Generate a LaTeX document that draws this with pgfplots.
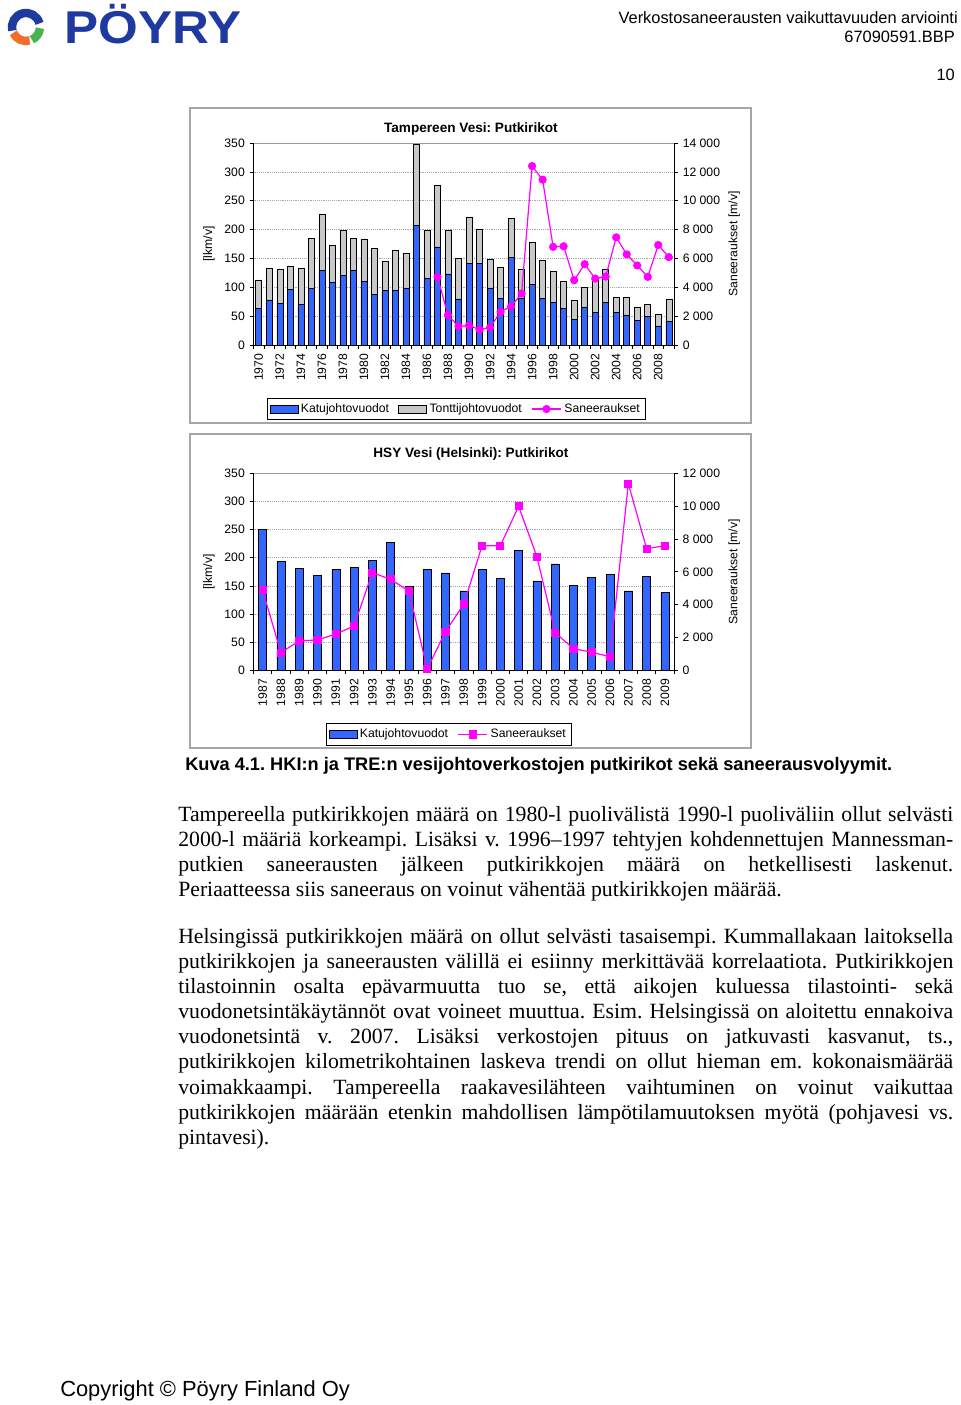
\documentclass[border=0pt]{standalone}
\usepackage{fontspec}
\setmainfont{Liberation Sans}
\newfontfamily\serifbody{Liberation Serif}
\usepackage{pgfplots}
\usepackage{pgfplotstable}
\pgfplotsset{compat=1.18}

\definecolor{katublue}{RGB}{51,102,255}
\definecolor{tonttigray}{RGB}{200,200,200}
\definecolor{sanmag}{RGB}{255,0,255}
\definecolor{poyryblue}{RGB}{30,58,160}
\definecolor{poyryorange}{RGB}{240,110,40}
\definecolor{poyrygreen}{RGB}{70,180,80}

\newcommand\chartfont{\fontsize{9.15pt}{11pt}\selectfont}
\newcommand\titlefont{\fontsize{10.2pt}{12pt}\selectfont\bfseries}
\newcommand\bodyfont{\serifbody\fontsize{16.3pt}{18.75pt}\selectfont}

\pgfplotstableread{
year katu tontti
1970 63 50
1971 78 55
1972 72 59
1973 96 41
1974 71 62
1975 98 87
1976 129 97
1977 108 64
1978 121 78
1979 129 56
1980 110 74
1981 88 80
1982 94 51
1983 94 70
1984 98 61
1985 207 141
1986 116 83
1987 170 107
1988 123 76
1989 80 70
1990 142 80
1991 141 60
1992 99 50
1993 81 54
1994 152 67
1995 81 50
1996 105 73
1997 81 66
1998 74 53
1999 63 47
2000 45 32
2001 66 34
2002 56 60
2003 74 58
2004 56 26
2005 52 30
2006 43 23
2007 49 21
2008 33 20
2009 41 39
}\tretable

\pgfplotstableread{
year san
1987 4720
1988 2070
1989 1280
1990 1350
1991 1070
1992 1210
1993 2300
1994 2670
1995 3560
1996 12400
1997 11460
1998 6800
1999 6840
2000 4490
2001 5600
2002 4600
2003 4740
2004 7460
2005 6280
2006 5510
2007 4720
2008 6930
2009 6090
}\tresan

\pgfplotstableread{
year katu san
1987 250 4870
1988 193 1080
1989 181 1790
1990 169 1850
1991 179 2210
1992 183 2700
1993 195 5950
1994 227 5540
1995 149 4830
1996 179 80
1997 173 2360
1998 141 4020
1999 179 7590
2000 163 7590
2001 213 9990
2002 159 6920
2003 189 2290
2004 151 1320
2005 165 1100
2006 171 830
2007 141 11370
2008 167 7410
2009 139 7590
}\hkitable

\pgfplotsset{
  excelaxis/.style={
    scale only axis, width=315.4pt,
    /pgf/number format/assume math mode=true,
    tick label style={font=\chartfont, black},
    label style={font=\chartfont},
    tick align=outside,
    major tick length=3pt, minor tick length=3pt,
    axis line style={black, line width=0.6pt},
    every tick/.style={black, line width=0.5pt},
    scaled y ticks=false,
    clip=false,
  },
  barlegend/.style={legend image code/.code={\draw[##1] (0pt,-3pt) rectangle (21pt,3pt);}},
  linelegend/.style={legend image code/.code={\draw[##1, mark repeat=2, mark phase=2] plot coordinates {(0pt,0pt) (11pt,0pt) (22pt,0pt)};}},
  excellegend/.style={legend style={draw=black, line width=0.5pt, font=\chartfont, inner sep=2pt,
      /tikz/every even column/.append style={column sep=5pt}}, legend cell align=left},
}

\begin{document}
\frenchspacing
\begin{tikzpicture}[x=0.75pt,y=0.75pt]
\useasboundingbox (0,0) rectangle (960,1405);
\fill[white] (0,0) rectangle (960,1405);

% ---- header ----
\draw[poyryblue, line width=6.3pt] (26,1378) ++(15:14) arc[start angle=15, end angle=195, radius=14];
\draw[poyryorange, line width=6.3pt] (26,1378) ++(205:14) arc[start angle=205, end angle=285, radius=14];
\draw[poyrygreen, line width=6.3pt] (26,1378) ++(295:14) arc[start angle=295, end angle=355, radius=14];
\node[anchor=base west, inner sep=0pt, text=poyryblue, font=\fontsize{34.5pt}{36pt}\selectfont\bfseries] at (64,1361) {\scalebox{1.11}[1]{PÖYRY}};
\node[anchor=base east, inner sep=0pt, font=\fontsize{12.3pt}{14pt}\selectfont] at (958,1381) {Verkostosaneerausten vaikuttavuuden arviointi};
\node[anchor=base east, inner sep=0pt, font=\fontsize{12.3pt}{14pt}\selectfont] at (955,1362) {67090591.BBP};
\node[anchor=base east, inner sep=0pt, font=\fontsize{12.3pt}{14pt}\selectfont] at (955,1324) {10};

% ---- chart frames ----
\draw[gray!70, line width=0.9pt] (190,1297) rectangle (751,982);
\draw[gray!70, line width=0.9pt] (190,971) rectangle (751,657);

% ---- Tampere primary ----
\begin{axis}[excelaxis, at={(190.125pt,795pt)}, anchor=south west, height=151.5pt,
  ybar stacked, bar width=4.5pt,
  xmin=1969.5, xmax=2009.5, ymin=0, ymax=350,
  axis x line*=bottom, axis y line*=left,
  xtick={1970,1972,...,2008},
  every major x tick/.style={draw=none},
  minor xtick={1969.5,1970.5,...,2009.5},
  x tick label style={rotate=90, anchor=east, /pgf/number format/1000 sep={}},
  ytick={0,50,...,350},
  ymajorgrids, grid style={densely dotted, gray!70, line width=0.5pt},
  ylabel={[lkm/v]}, ylabel style={at={(axis description cs:-0.106,0.5)}, anchor=center},
  title={Tampereen Vesi: Putkirikot},
  title style={at={(axis description cs:0.517,1.079)}, anchor=center, yshift=-7.5pt, font=\titlefont},
]
\addplot[fill=katublue, draw=black, line width=0.4pt] table[x=year,y=katu]{\tretable};
\addplot[fill=tonttigray, draw=black, line width=0.4pt] table[x=year,y=tontti]{\tretable};
\draw[gray!80, line width=0.6pt] (rel axis cs:0,1) -- (rel axis cs:1,1);
\end{axis}

% ---- Tampere secondary ----
\begin{axis}[excelaxis, excellegend, at={(190.125pt,795pt)}, anchor=south west, height=151.5pt,
  xmin=1969.5, xmax=2009.5, ymin=0, ymax=14000,
  axis x line=none, axis y line*=right,
  ytick={0,2000,...,14000},
  yticklabel style={/pgf/number format/.cd, fixed, precision=0, 1000 sep={\ }},
  ylabel={Saneeraukset [m/v]}, ylabel style={at={(axis description cs:1.143,0.5)}, anchor=center},
  legend columns=3,
  legend style={at={(axis description cs:0.4816,-0.317)}, anchor=center},
]
\addlegendimage{barlegend, fill=katublue, draw=black, line width=0.4pt}
\addlegendentry{Katujohtovuodot}
\addlegendimage{barlegend, fill=tonttigray, draw=black, line width=0.4pt}
\addlegendentry{Tonttijohtovuodot}
\addplot[linelegend, sanmag, line width=0.9pt, mark=*, mark size=2.6pt, mark options={fill=sanmag, draw=sanmag}] table[x=year,y=san]{\tresan};
\addlegendentry{Saneeraukset}
\end{axis}

% ---- Helsinki primary ----
\begin{axis}[excelaxis, at={(190.125pt,551pt)}, anchor=south west, height=147.75pt,
  ybar, bar width=6pt,
  xmin=1986.5, xmax=2009.5, ymin=0, ymax=350,
  axis x line*=bottom, axis y line*=left,
  xtick={1987,1988,...,2009},
  every major x tick/.style={draw=none},
  minor xtick={1986.5,1987.5,...,2009.5},
  x tick label style={rotate=90, anchor=east, /pgf/number format/1000 sep={}},
  ytick={0,50,...,350},
  ymajorgrids, grid style={densely dotted, gray!70, line width=0.5pt},
  ylabel={[lkm/v]}, ylabel style={at={(axis description cs:-0.106,0.5)}, anchor=center},
  title={HSY Vesi (Helsinki): Putkirikot},
  title style={at={(axis description cs:0.517,1.108)}, anchor=center, yshift=-7.5pt, font=\titlefont},
]
\addplot[fill=katublue, draw=black, line width=0.4pt] table[x=year,y=katu]{\hkitable};
\draw[gray!80, line width=0.6pt] (rel axis cs:0,1) -- (rel axis cs:1,1);
\end{axis}

% ---- Helsinki secondary ----
\begin{axis}[excelaxis, excellegend, at={(190.125pt,551pt)}, anchor=south west, height=147.75pt,
  xmin=1986.5, xmax=2009.5, ymin=0, ymax=12000,
  axis x line=none, axis y line*=right,
  ytick={0,2000,...,12000},
  yticklabel style={/pgf/number format/.cd, fixed, precision=0, 1000 sep={\ }},
  ylabel={Saneeraukset [m/v]}, ylabel style={at={(axis description cs:1.143,0.5)}, anchor=center},
  legend columns=2,
  legend style={at={(axis description cs:0.464,-0.326)}, anchor=center},
]
\addlegendimage{barlegend, fill=katublue, draw=black, line width=0.4pt}
\addlegendentry{Katujohtovuodot}
\addplot[linelegend, sanmag, line width=0.9pt, mark=square*, mark size=2.6pt, mark options={fill=sanmag, draw=sanmag}] table[x=year,y=san]{\hkitable};
\addlegendentry{Saneeraukset}
\end{axis}

% ---- caption ----
\node[anchor=base west, inner sep=0pt, font=\fontsize{13.65pt}{16pt}\selectfont\bfseries] at (185,634) {Kuva 4.1. HKI:n ja TRE:n vesijohtoverkostojen putkirikot sekä saneerausvolyymit.};

% ---- body text ----
\newcommand\jl[2]{\node[anchor=base west, inner sep=0pt, font=\bodyfont] at (178,#1) {\makebox[581.25pt][s]{#2}};}
\newcommand\nl[2]{\node[anchor=base west, inner sep=0pt, font=\bodyfont] at (178,#1) {#2};}
\jl{583}{Tampereella putkirikkojen määrä on 1980-l puolivälistä 1990-l puoliväliin ollut selvästi}
\jl{558}{2000-l määriä korkeampi. Lisäksi v. 1996–1997 tehtyjen kohdennettujen Mannessman-}
\jl{533}{putkien saneerausten jälkeen putkirikkojen määrä on hetkellisesti laskenut.}
\nl{508}{Periaatteessa siis saneeraus on voinut vähentää putkirikkojen määrää.}

\jl{461}{Helsingissä putkirikkojen määrä on ollut selvästi tasaisempi. Kummallakaan laitoksella}
\jl{436}{putkirikkojen ja saneerausten välillä ei esiinny merkittävää korrelaatiota. Putkirikkojen}
\jl{411}{tilastoinnin osalta epävarmuutta tuo se, että aikojen kuluessa tilastointi- sekä}
\jl{386}{vuodonetsintäkäytännöt ovat voineet muuttua. Esim. Helsingissä on aloitettu ennakoiva}
\jl{361}{vuodonetsintä v. 2007. Lisäksi verkostojen pituus on jatkuvasti kasvanut, ts.,}
\jl{336}{putkirikkojen kilometrikohtainen laskeva trendi on ollut hieman em. kokonaismäärää}
\jl{310}{voimakkaampi. Tampereella raakavesilähteen vaihtuminen on voinut vaikuttaa}
\jl{285}{putkirikkojen määrään etenkin mahdollisen lämpötilamuutoksen myötä (pohjavesi vs.}
\nl{260}{pintavesi).}

% ---- footer ----
\node[anchor=base west, inner sep=0pt, font=\fontsize{16.4pt}{18pt}\selectfont] at (60,8) {Copyright © Pöyry Finland Oy};
\end{tikzpicture}
\end{document}
